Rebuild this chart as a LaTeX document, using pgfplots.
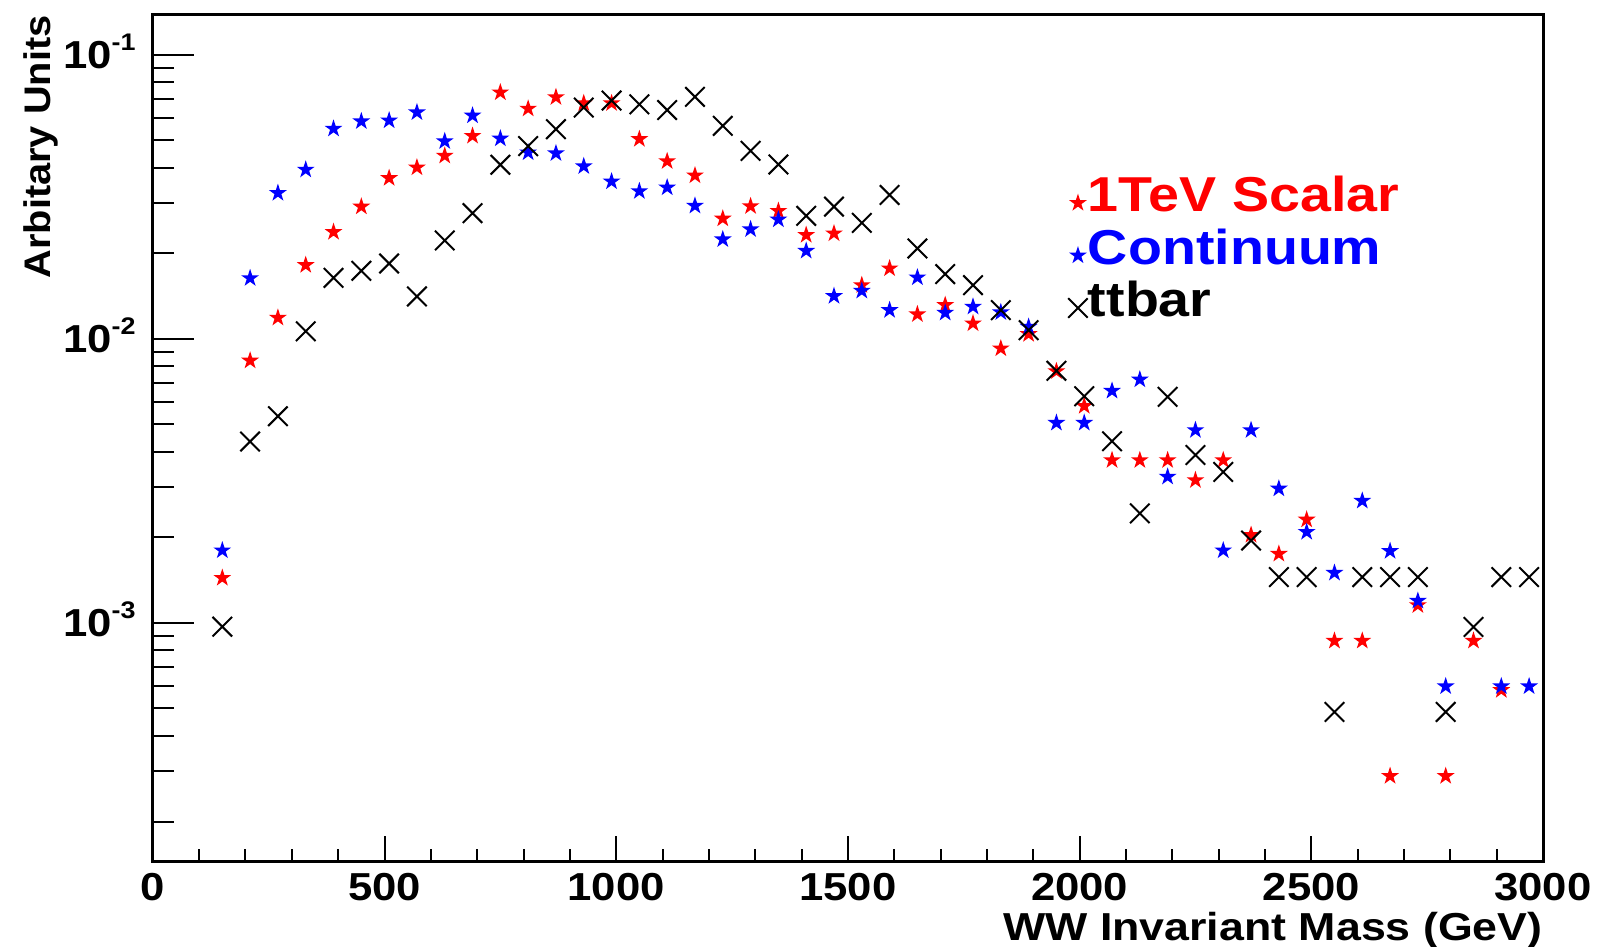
\documentclass[border=0pt]{standalone}
\usepackage{pgfplots}
\pgfplotsset{compat=1.18}
\usepackage{fontspec}
\setmainfont{Liberation Sans}
\newfontfamily\tickf{Liberation Sans}[FakeStretch=1.12]
\newfontfamily\xlabf{Liberation Sans}[FakeStretch=1.147]
\newfontfamily\ylabf{Liberation Sans}[FakeStretch=1.075]
\newfontfamily\legf{Liberation Sans}[FakeStretch=1.135]

\pgfdeclareplotmark{fstar}{%
  \pgfpathmoveto{\pgfqpoint{0pt}{\pgfplotmarksize}}%
  \pgfpathlineto{\pgfqpoint{-0.2245\pgfplotmarksize}{0.3090\pgfplotmarksize}}%
  \pgfpathlineto{\pgfqpoint{-0.9511\pgfplotmarksize}{0.3090\pgfplotmarksize}}%
  \pgfpathlineto{\pgfqpoint{-0.3633\pgfplotmarksize}{-0.1180\pgfplotmarksize}}%
  \pgfpathlineto{\pgfqpoint{-0.5878\pgfplotmarksize}{-0.8090\pgfplotmarksize}}%
  \pgfpathlineto{\pgfqpoint{0pt}{-0.3820\pgfplotmarksize}}%
  \pgfpathlineto{\pgfqpoint{0.5878\pgfplotmarksize}{-0.8090\pgfplotmarksize}}%
  \pgfpathlineto{\pgfqpoint{0.3633\pgfplotmarksize}{-0.1180\pgfplotmarksize}}%
  \pgfpathlineto{\pgfqpoint{0.9511\pgfplotmarksize}{0.3090\pgfplotmarksize}}%
  \pgfpathlineto{\pgfqpoint{0.2245\pgfplotmarksize}{0.3090\pgfplotmarksize}}%
  \pgfpathclose
  \pgfusepathqfill
}
\newcommand\tenexp[1]{10\raisebox{9.2pt}{\fontsize{12}{12}\selectfont #1}}

\pgfplotsset{
  common/.style={
    at={(76.4pt,43pt)}, anchor=south west,
    scale only axis, width=695.1pt, height=423.35pt,
    xmin=0, xmax=3000, ymin=1.452e-4, ymax=0.1388,
    axis line style={line width=1.5pt, black},
    tick style={line width=1pt, black},
    tick align=inside,
  }
}

\begin{document}
\begin{tikzpicture}
% axis with data, y ticks and legend
\begin{axis}[ymode=log, common,
  xtick=\empty, xminorticks=false,
  ytick={1e-3,1e-2,1e-1},
  yticklabels={\tenexp{-3},\tenexp{-2},\tenexp{-1}},
  minor ytick={2e-4,3e-4,4e-4,5e-4,6e-4,7e-4,8e-4,9e-4,
               2e-3,3e-3,4e-3,5e-3,6e-3,7e-3,8e-3,9e-3,
               2e-2,3e-2,4e-2,5e-2,6e-2,7e-2,8e-2,9e-2},
  ytick pos=left,
  major tick length=20.5pt, minor tick length=10.5pt,
  yticklabel style={font=\tickf\bfseries\fontsize{19.5}{20}\selectfont,
     anchor=base east, inner sep=0pt, xshift=-8.4pt, yshift=-7pt},
  ylabel={Arbitary Units},
  ylabel style={font=\ylabf\bfseries\fontsize{18.5}{20}\selectfont,
     at={(axis description cs:-0.07395,0.9992)}, anchor=base east, inner sep=0pt},
  legend cell align=left,
  legend style={at={(axis description cs:0.6583,0.8082)}, anchor=north west,
     draw=none, fill=none, inner sep=0pt, outer sep=0pt,
     row sep=8.75pt, column sep=0pt,
     font=\legf\bfseries\fontsize{24.5}{26}\selectfont,
     nodes={inner sep=0pt, text height=17.5pt, text depth=0pt}},
  legend image code/.code={\draw[#1, overlay] plot coordinates {(0pt,-4.4pt)}; \path[draw=none, fill=none] (-5pt,0pt) -- (5pt,0pt);},
]
\addplot[only marks, mark=fstar, mark size=4.7pt, color=red] coordinates {
(150,0.00144) (210,0.00838) (270,0.01186) (330,0.01818) (390,0.02377)
(450,0.0292) (510,0.0368) (570,0.0401) (630,0.0441) (690,0.0518)
(750,0.0737) (810,0.0646) (870,0.0709) (930,0.0675) (990,0.0675)
(1050,0.0505) (1110,0.0422) (1170,0.0376) (1230,0.0265) (1290,0.0293)
(1350,0.0282) (1410,0.0232) (1470,0.0235) (1530,0.01545) (1590,0.0177)
(1650,0.0122) (1710,0.01315) (1770,0.01133) (1830,0.00925) (1890,0.01039)
(1950,0.00769) (2010,0.0058) (2070,0.00374) (2130,0.00374) (2190,0.00374)
(2250,0.00318) (2310,0.00374) (2370,0.00204) (2430,0.00175) (2490,0.00231)
(2550,0.000865) (2610,0.000865) (2670,0.000289) (2730,0.001154) (2790,0.000289)
(2850,0.000865) (2910,0.00058)
};
\addlegendentry{\textcolor{red}{1TeV Scalar}}
\addplot[only marks, mark=fstar, mark size=4.7pt, color=blue] coordinates {
(150,0.0018) (210,0.01635) (270,0.0326) (330,0.0394) (390,0.0549)
(450,0.0583) (510,0.0587) (570,0.0627) (630,0.0496) (690,0.0611)
(750,0.0507) (810,0.0453) (870,0.045) (930,0.0405) (990,0.0358)
(1050,0.0331) (1110,0.0341) (1170,0.0294) (1230,0.0224) (1290,0.0243)
(1350,0.0263) (1410,0.0204) (1470,0.01414) (1530,0.01476) (1590,0.01262)
(1650,0.01645) (1710,0.01235) (1770,0.01297) (1830,0.0124) (1890,0.01102)
(1950,0.00506) (2010,0.00506) (2070,0.00656) (2130,0.00719) (2190,0.00327)
(2250,0.00477) (2310,0.0018) (2370,0.00477) (2430,0.00297) (2490,0.00209)
(2550,0.0015) (2610,0.00269) (2670,0.00179) (2730,0.001196) (2790,0.000598)
(2910,0.000598) (2970,0.000598)
};
\addlegendentry{\textcolor{blue}{Continuum}}
\addplot[only marks, mark=x, mark size=6.9pt, mark options={line width=1pt}, color=black] coordinates {
(150,0.00097) (210,0.00435) (270,0.00534) (330,0.01063) (390,0.0164)
(450,0.01736) (510,0.01842) (570,0.0141) (630,0.0222) (690,0.0277)
(750,0.041) (810,0.0477) (870,0.0547) (930,0.0652) (990,0.069)
(1050,0.0669) (1110,0.0639) (1170,0.0711) (1230,0.0562) (1290,0.0459)
(1350,0.0411) (1410,0.0271) (1470,0.0292) (1530,0.0256) (1590,0.0321)
(1650,0.0208) (1710,0.0169) (1770,0.01545) (1830,0.01262) (1890,0.01073)
(1950,0.00772) (2010,0.00628) (2070,0.00436) (2130,0.00243) (2190,0.00625)
(2250,0.0039) (2310,0.0034) (2370,0.00195) (2430,0.00145) (2490,0.00145)
(2550,0.000486) (2610,0.00145) (2670,0.00145) (2730,0.00145) (2790,0.000486)
(2850,0.000968) (2910,0.00145) (2970,0.00145)
};
\addlegendentry{ttbar}
\end{axis}
% axis for x ticks and label
\begin{axis}[ymode=log, common,
  ytick=\empty, yminorticks=false,
  xtick={0,500,1000,1500,2000,2500,3000},
  xticklabels={0,500,1000,1500,2000,2500,3000},
  minor x tick num=4,
  xtick pos=bottom,
  major tick length=12.5pt, minor tick length=6pt,
  xticklabel style={font=\tickf\bfseries\fontsize{19.5}{20}\selectfont,
     anchor=north, inner sep=0pt, yshift=-6pt},
  xlabel={WW Invariant Mass (GeV)},
  xlabel style={font=\xlabf\bfseries\fontsize{19.5}{20}\selectfont,
     at={(axis description cs:1,-0.0936)}, anchor=base east, inner sep=0pt},
]
\end{axis}
\pgfresetboundingbox
\path[use as bounding box] (0,0) rectangle (798.5pt,473.5pt);
\end{tikzpicture}
\end{document}
